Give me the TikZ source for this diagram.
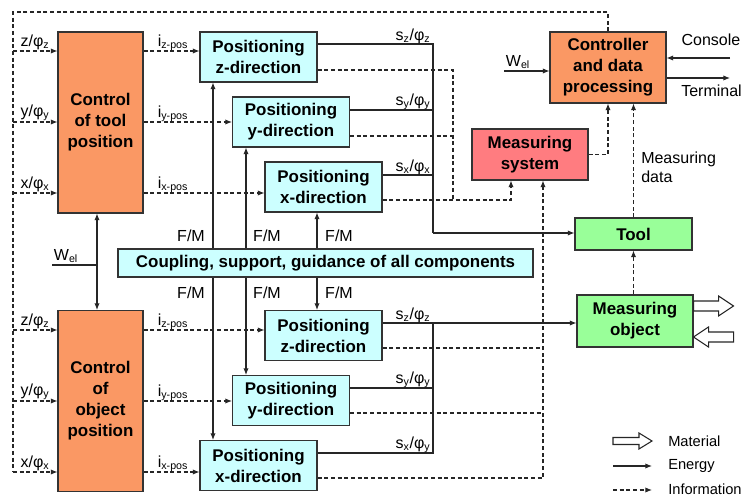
\documentclass[tikz,border=0pt]{standalone}
\usepackage{fontspec}
\setmainfont{Liberation Sans}
\usepackage{xcolor}
\usetikzlibrary{arrows.meta,math}

\definecolor{orng}{RGB}{250,152,100}
\definecolor{cyanbox}{RGB}{204,255,255}
\definecolor{redbox}{RGB}{255,124,128}
\definecolor{grnbox}{RGB}{153,255,153}

\tikzset{
  blk/.style={draw=black!80, line width=0.8pt, inner sep=0pt, align=center,
    font=\fontsize{12.7}{15.75}\selectfont\bfseries},
  posbox/.style={blk, fill=cyanbox, minimum width=117*0.75pt, minimum height=50*0.75pt},
  ctlbox/.style={blk, fill=orng, minimum width=85*0.75pt, minimum height=181*0.75pt},
  energy/.style={line width=0.8pt, draw=black!85},
  info/.style={energy, dash pattern=on 3pt off 2pt},
  arr/.style={-{Latex[length=5pt,width=4pt]}},
  material/.style={draw=black!85, line width=0.8pt, fill=white},
  lbl/.style={font=\fontsize{12}{14}\selectfont, inner sep=0pt},
  lgd/.style={font=\fontsize{11}{13}\selectfont, inner sep=0pt, anchor=west},
}

\begin{document}
\begin{tikzpicture}[x=0.75pt, y=-0.75pt]

\useasboundingbox (0,0) rectangle (744,499);

% blocks
\node[ctlbox] (ctool) at (100.5,122.5) {Control\\of tool\\position};
\node[ctlbox] (cobj) at (100.5,401) {Control\\of\\object\\position};

\node[posbox] (pz1) at (258.5,57) {Positioning\\z-direction};
\node[posbox] (py1) at (291,122) {Positioning\\y-direction};
\node[posbox] (px1) at (323.5,187) {Positioning\\x-direction};
\node[posbox] (pz2) at (323.5,335.5) {Positioning\\z-direction};
\node[posbox] (py2) at (291,400.5) {Positioning\\y-direction};
\node[posbox] (px2) at (258.5,465.5) {Positioning\\x-direction};

\node[blk, fill=cyanbox, minimum width=415*0.75pt, minimum height=28*0.75pt] (coup) at (325.5,263)
  {Coupling, support, guidance of all components};

\node[blk, fill=orng, minimum width=116*0.75pt, minimum height=71*0.75pt] (ctrl) at (608,67.5)
  {Controller\\and data\\processing};
\node[blk, fill=redbox, minimum width=116*0.75pt, minimum height=51*0.75pt] (msys) at (530,154.5)
  {Measuring\\system};
\node[blk, fill=grnbox, minimum width=117*0.75pt, minimum height=32*0.75pt] (tool) at (633.5,234) {Tool};
\node[blk, fill=grnbox, minimum width=116*0.75pt, minimum height=52*0.75pt] (mobj) at (635,321)
  {Measuring\\object};

% set points from the controller
\draw[info] (ctrl.north) |- (13,12) -- (13,472);
\draw[info,arr] (13,51) -- (ctool.west |- 0,51);
\draw[info,arr] (13,122) -- (ctool.west |- 0,122);
\draw[info,arr] (13,193) -- (ctool.west |- 0,193);
\draw[info,arr] (13,330) -- (cobj.west |- 0,330);
\draw[info,arr] (13,401) -- (cobj.west |- 0,401);
\draw[info,arr] (13,472) -- (cobj.west |- 0,472);

\node[lbl] (tz) at (35,42) {z/φ\textsubscript{z}};
\node[lbl] (ty) at (35,113) {y/φ\textsubscript{y}};
\node[lbl] (tx) at (35,184) {x/φ\textsubscript{x}};
\node[lbl] (oz) at (35,321) {z/φ\textsubscript{z}};
\node[lbl] (oy) at (35,392) {y/φ\textsubscript{y}};
\node[lbl] (ox) at (35,463) {x/φ\textsubscript{x}};

% currents to the positioning units
\draw[info,arr] (ctool.east |- 0,51) -- (pz1.west |- 0,51);
\draw[info,arr] (ctool.east |- 0,122) -- (py1.west |- 0,122);
\draw[info,arr] (ctool.east |- 0,193) -- (px1.west |- 0,193);
\draw[info,arr] (cobj.east |- 0,330) -- (pz2.west |- 0,330);
\draw[info,arr] (cobj.east |- 0,401) -- (py2.west |- 0,401);
\draw[info,arr] (cobj.east |- 0,472) -- (px2.west |- 0,472);

\node[lbl] (iz1) at (173,43) {i\textsubscript{z-pos}};
\node[lbl] (iy1) at (173,114) {i\textsubscript{y-pos}};
\node[lbl] (ix1) at (173,185) {i\textsubscript{x-pos}};
\node[lbl] (iz2) at (173,322) {i\textsubscript{z-pos}};
\node[lbl] (iy2) at (173,393) {i\textsubscript{y-pos}};
\node[lbl] (ix2) at (173,464) {i\textsubscript{x-pos}};

% forces and moments
\draw[energy,arr] (coup.north -| 213,0) -- (pz1.south -| 213,0);
\draw[energy,arr] (coup.north -| 246,0) -- (py1.south -| 246,0);
\draw[energy,arr] (coup.north -| 317,0) -- (px1.south -| 317,0);
\draw[energy,arr] (coup.south -| 213,0) -- (px2.north -| 213,0);
\draw[energy,arr] (coup.south -| 246,0) -- (py2.north -| 246,0);
\draw[energy,arr] (coup.south -| 317,0) -- (pz2.north -| 317,0);

\node[lbl] (fm1) at (191,236) {F/M};
\node[lbl] (fm2) at (267,236) {F/M};
\node[lbl] (fm3) at (339,236) {F/M};
\node[lbl] (fm4) at (191,293) {F/M};
\node[lbl] (fm5) at (267,293) {F/M};
\node[lbl] (fm6) at (339,293) {F/M};

% electric power
\draw[energy,arr] (52,265) -- (97,265) -- (cobj.north -| 97,0);
\draw[energy,arr] (97,265) -- (ctool.south -| 97,0);
\node[lbl] (wel1) at (66,256) {W\textsubscript{el}};
\draw[energy,arr] (504,71) -- (ctrl.west |- 0,71);
\node[lbl] (wel2) at (518,62) {W\textsubscript{el}};

% motions
\draw[energy] (pz1.east |- 0,44) -| (433,233);
\draw[energy] (py1.east |- 0,110) -- (433,110);
\draw[energy] (px1.east |- 0,175) -- (433,175);
\draw[energy,arr] (433,233) -- (tool.west |- 0,233);
\draw[energy,arr] (pz2.east |- 0,323) -- (mobj.west |- 0,323);
\draw[energy] (py2.east |- 0,388) -- (433,388);
\draw[energy] (px2.east |- 0,453) -| (433,323);

\node[lbl] (sz1) at (413,36) {s\textsubscript{z}/φ\textsubscript{z}};
\node[lbl] (sy1) at (413,102) {s\textsubscript{y}/φ\textsubscript{y}};
\node[lbl] (sx1) at (413,167) {s\textsubscript{x}/φ\textsubscript{x}};
\node[lbl] (sz2) at (413,315) {s\textsubscript{z}/φ\textsubscript{z}};
\node[lbl] (sy2) at (413,380) {s\textsubscript{y}/φ\textsubscript{y}};
\node[lbl] (sx2) at (413,445) {s\textsubscript{x}/φ\textsubscript{y}};

% signals to the measuring system
\draw[info] (pz1.east |- 0,70) -| (453,200);
\draw[info] (py1.east |- 0,136) -- (453,136);
\draw[info,arr] (px1.east |- 0,200) -| (511,0 |- msys.south);
\draw[info,arr] (px2.east |- 0,478) -| (543,0 |- msys.south);
\draw[info] (pz2.east |- 0,348) -- (543,348);
\draw[info] (py2.east |- 0,413) -- (543,413);
\draw[info,arr] (msys.east) -| (ctrl.south);
\draw[info,arr] (tool.north) -- (tool.north |- ctrl.south);
\draw[info,arr] (mobj.north -| tool.north) -- (tool.south);
\node[lbl, anchor=west, align=left] (mdat) at (641,167) {Measuring\\data};

% console and terminal
\draw[energy,arr] (730,58) -- (ctrl.east |- 0,58);
\draw[energy,arr] (ctrl.east |- 0,78) -- (730,78);
\node[lbl] (cons) at (711,40) {Console};
\node[lbl, anchor=west] (term) at (681,91) {Terminal};

% material flow
\draw[material] (mobj.east |- 0,306) ++(0,-5) -- ++(25,0) -- ++(0,-5) -- ++(15,10)
  -- ++(-15,10) -- ++(0,-5) -- ++(-25,0) -- cycle;
\draw[material] (mobj.east |- 0,337) -- ++(15,-10) -- ++(0,5) -- ++(25,0) -- ++(0,10)
  -- ++(-25,0) -- ++(0,5) -- cycle;

% legend
\draw[material] (613,441) ++(0,-3.5) -- ++(26,0) -- ++(0,-4.5) -- ++(13,8)
  -- ++(-13,8) -- ++(0,-4.5) -- ++(-26,0) -- cycle;
\draw[energy,arr] (613,466) -- (652,466);
\draw[info,arr] (613,490) -- (652,490);
\node[lgd] (lmat) at (668,441) {Material};
\node[lgd] (lene) at (668,466) {Energy};
\node[lgd] (linf) at (668,489) {Information};

\end{tikzpicture}
\end{document}
